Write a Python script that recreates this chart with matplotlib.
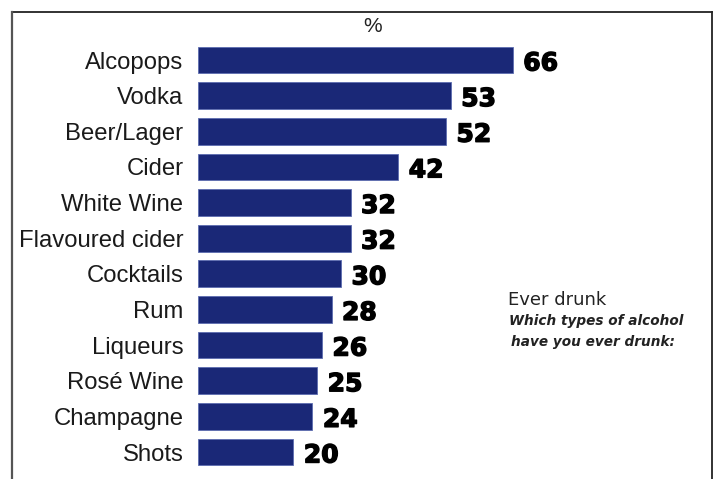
import matplotlib
matplotlib.use("Agg")
import matplotlib.pyplot as plt
from matplotlib.lines import Line2D
import matplotlib.patheffects as pe

# Share of respondents who have ever drunk each type of alcohol (%)
categories = ["Alcopops", "Vodka", "Beer/Lager", "Cider", "White Wine",
              "Flavoured cider", "Cocktails", "Rum", "Liqueurs", "Rosé Wine",
              "Champagne", "Shots"]
values = [66, 53, 52, 42, 32, 32, 30, 28, 26, 25, 24, 20]

W, H, DPI = 717, 479, 100
fig = plt.figure(figsize=(W / DPI, H / DPI), dpi=DPI)
fig.patch.set_facecolor("white")

# axes placed so that the zero line sits at x=198 px, 4.77 px per percentage point
px_per_unit = 4.77
xmax = 100
row = 35.64
n = len(categories)
left = 198 / W
width = px_per_unit * xmax / W
top_px = 60 - row / 2
height_px = row * n
ax = fig.add_axes([left, 1 - (top_px + height_px) / H, width, height_px / H])

ypos = list(range(n))
ax.barh(ypos, values, height=0.75, color="#1a2877", edgecolor="#5d6cb0",
        linewidth=0.6)
ax.set_xlim(0, xmax)
ax.set_ylim(n - 0.5, -0.5)

ax.set_yticks(ypos)
ax.set_yticklabels(categories, family="Liberation Sans", fontsize=17.2,
                   color="#1a1a1a")
ax.tick_params(axis="y", length=0, pad=10.5)
ax.set_xticks([])
for s in ax.spines.values():
    s.set_visible(False)

for y, v in zip(ypos, values):
    ax.annotate(str(v), xy=(v, y), xytext=(7.5, -2.5), textcoords="offset points",
                ha="left", va="center", family="DejaVu Sans",
                fontweight="bold", fontsize=18, color="black",
                path_effects=[pe.withStroke(linewidth=1.0, foreground="black")])

# unit label above the bars
fig.text(373 / W, 1 - 27 / H, "%", ha="center", va="center",
         family="Liberation Sans", fontsize=15, color="#222222")

# question note
fig.text(508 / W, 1 - 305 / H, "Ever drunk", ha="left", va="baseline",
         family="DejaVu Sans", fontsize=13, color="#222222")
fig.text(509 / W, 1 - 325 / H, "Which types of alcohol", ha="left",
         va="baseline", family="DejaVu Sans", fontsize=9.8, style="italic",
         fontweight="bold", color="#222222")
fig.text(511 / W, 1 - 346 / H, "have you ever drunk:", ha="left",
         va="baseline", family="DejaVu Sans", fontsize=9.8, style="italic",
         fontweight="bold", color="#222222")

# outer frame (open at the bottom)
fx0, fx1, fy0 = 12 / W, 712 / W, 1 - 12 / H
fig.add_artist(Line2D([fx0, fx1], [fy0, fy0], transform=fig.transFigure,
                      color="#222222", linewidth=1.3))
fig.add_artist(Line2D([fx0, fx0], [fy0, 0], transform=fig.transFigure,
                      color="#555555", linewidth=1.6))
fig.add_artist(Line2D([fx1, fx1], [fy0, 0], transform=fig.transFigure,
                      color="#222222", linewidth=1.3))

fig.savefig("out.png", dpi=DPI)
